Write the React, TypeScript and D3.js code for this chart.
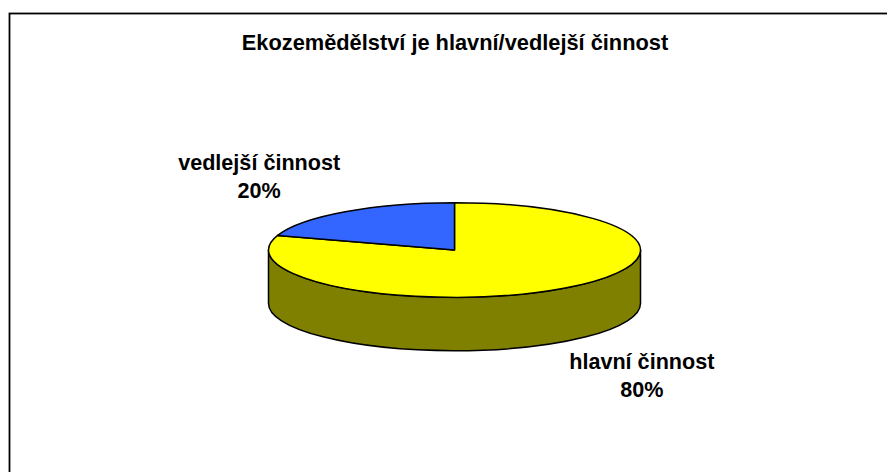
import React from 'react'
import * as d3 from 'd3'

const title = 'Ekozemědělství je hlavní/vedlejší činnost'
const categories = ['hlavní činnost', 'vedlejší činnost']
const values = [80, 20]
const colors = ['#ffff00', '#3366ff']
const sideColor = '#808000'

const width = 887
const height = 472

const cx = 454.5
const cy = 250
const rx = 186
const ry = 47.3
const depth = 53.4

// point on the top ellipse for a d3 pie angle (0 at 12 o'clock, clockwise)
const pt = (a: number, dy = 0) => [cx + rx * Math.sin(a), cy - ry * Math.cos(a) + dy]

const topPath = (a0: number, a1: number) => {
  const [x0, y0] = pt(a0)
  const [x1, y1] = pt(a1)
  const large = a1 - a0 > Math.PI ? 1 : 0
  return `M${cx},${cy}L${x0},${y0}A${rx},${ry} 0 ${large} 1 ${x1},${y1}Z`
}

// front wall of a slice, only the part facing the viewer
const sidePath = (a0: number, a1: number) => {
  const s = Math.max(a0, Math.PI / 2)
  const e = Math.min(a1, Math.PI * 1.5)
  if (e <= s) return null
  const [x0, y0] = pt(s)
  const [x1, y1] = pt(e)
  const [x2, y2] = pt(e, depth)
  const [x3, y3] = pt(s, depth)
  return `M${x0},${y0}A${rx},${ry} 0 0 1 ${x1},${y1}L${x2},${y2}A${rx},${ry} 0 0 0 ${x3},${y3}Z`
}

export default function App() {
  const pie = d3.pie<number>().sort(null).value(d => d)
  const arcs = pie(values)
  const total = d3.sum(values)
  const fmt = d3.format('.0%')
  const font = 'Arial, "Liberation Sans", Helvetica, sans-serif'

  return (
    <svg width={width} height={height} style={{ position: 'absolute', left: 0, top: 0 }}>
      <rect x={0} y={0} width={width} height={height} fill="#fff" />
      <rect x={9.5} y={13.5} width={width + 20} height={height + 20} fill="#fff" stroke="#000" strokeWidth={1.8} />
      <text x={455} y={50} textAnchor="middle" fontFamily={font} fontWeight="bold" fontSize={21.8}>
        {title}
      </text>

      {arcs.map((d, i) => {
        const p = sidePath(d.startAngle, d.endAngle)
        return p ? <path key={'s' + i} d={p} fill={sideColor} stroke="#000" strokeWidth={1.5} strokeLinejoin="round" /> : null
      })}
      {arcs.map((d, i) => (
        <path key={'t' + i} d={topPath(d.startAngle, d.endAngle)} fill={colors[i]} stroke="#000" strokeWidth={1.5} strokeLinejoin="round" />
      ))}

      {arcs.map((d, i) => {
        const mid = (d.startAngle + d.endAngle) / 2
        const front = Math.cos(mid) < 0
        const lx = cx - 4 + rx * 1.75 * Math.sin(mid)
        const ly = cy + (front ? depth : 0) - ry * 1.9 * Math.cos(mid)
        return (
          <text key={'l' + i} textAnchor="middle" fontFamily={font} fontWeight="bold" fontSize={21.6}>
            <tspan x={lx} y={ly - 7}>{categories[i]}</tspan>
            <tspan x={lx} y={ly + 20.5}>{fmt(values[i] / total)}</tspan>
          </text>
        )
      })}
    </svg>
  )
}
